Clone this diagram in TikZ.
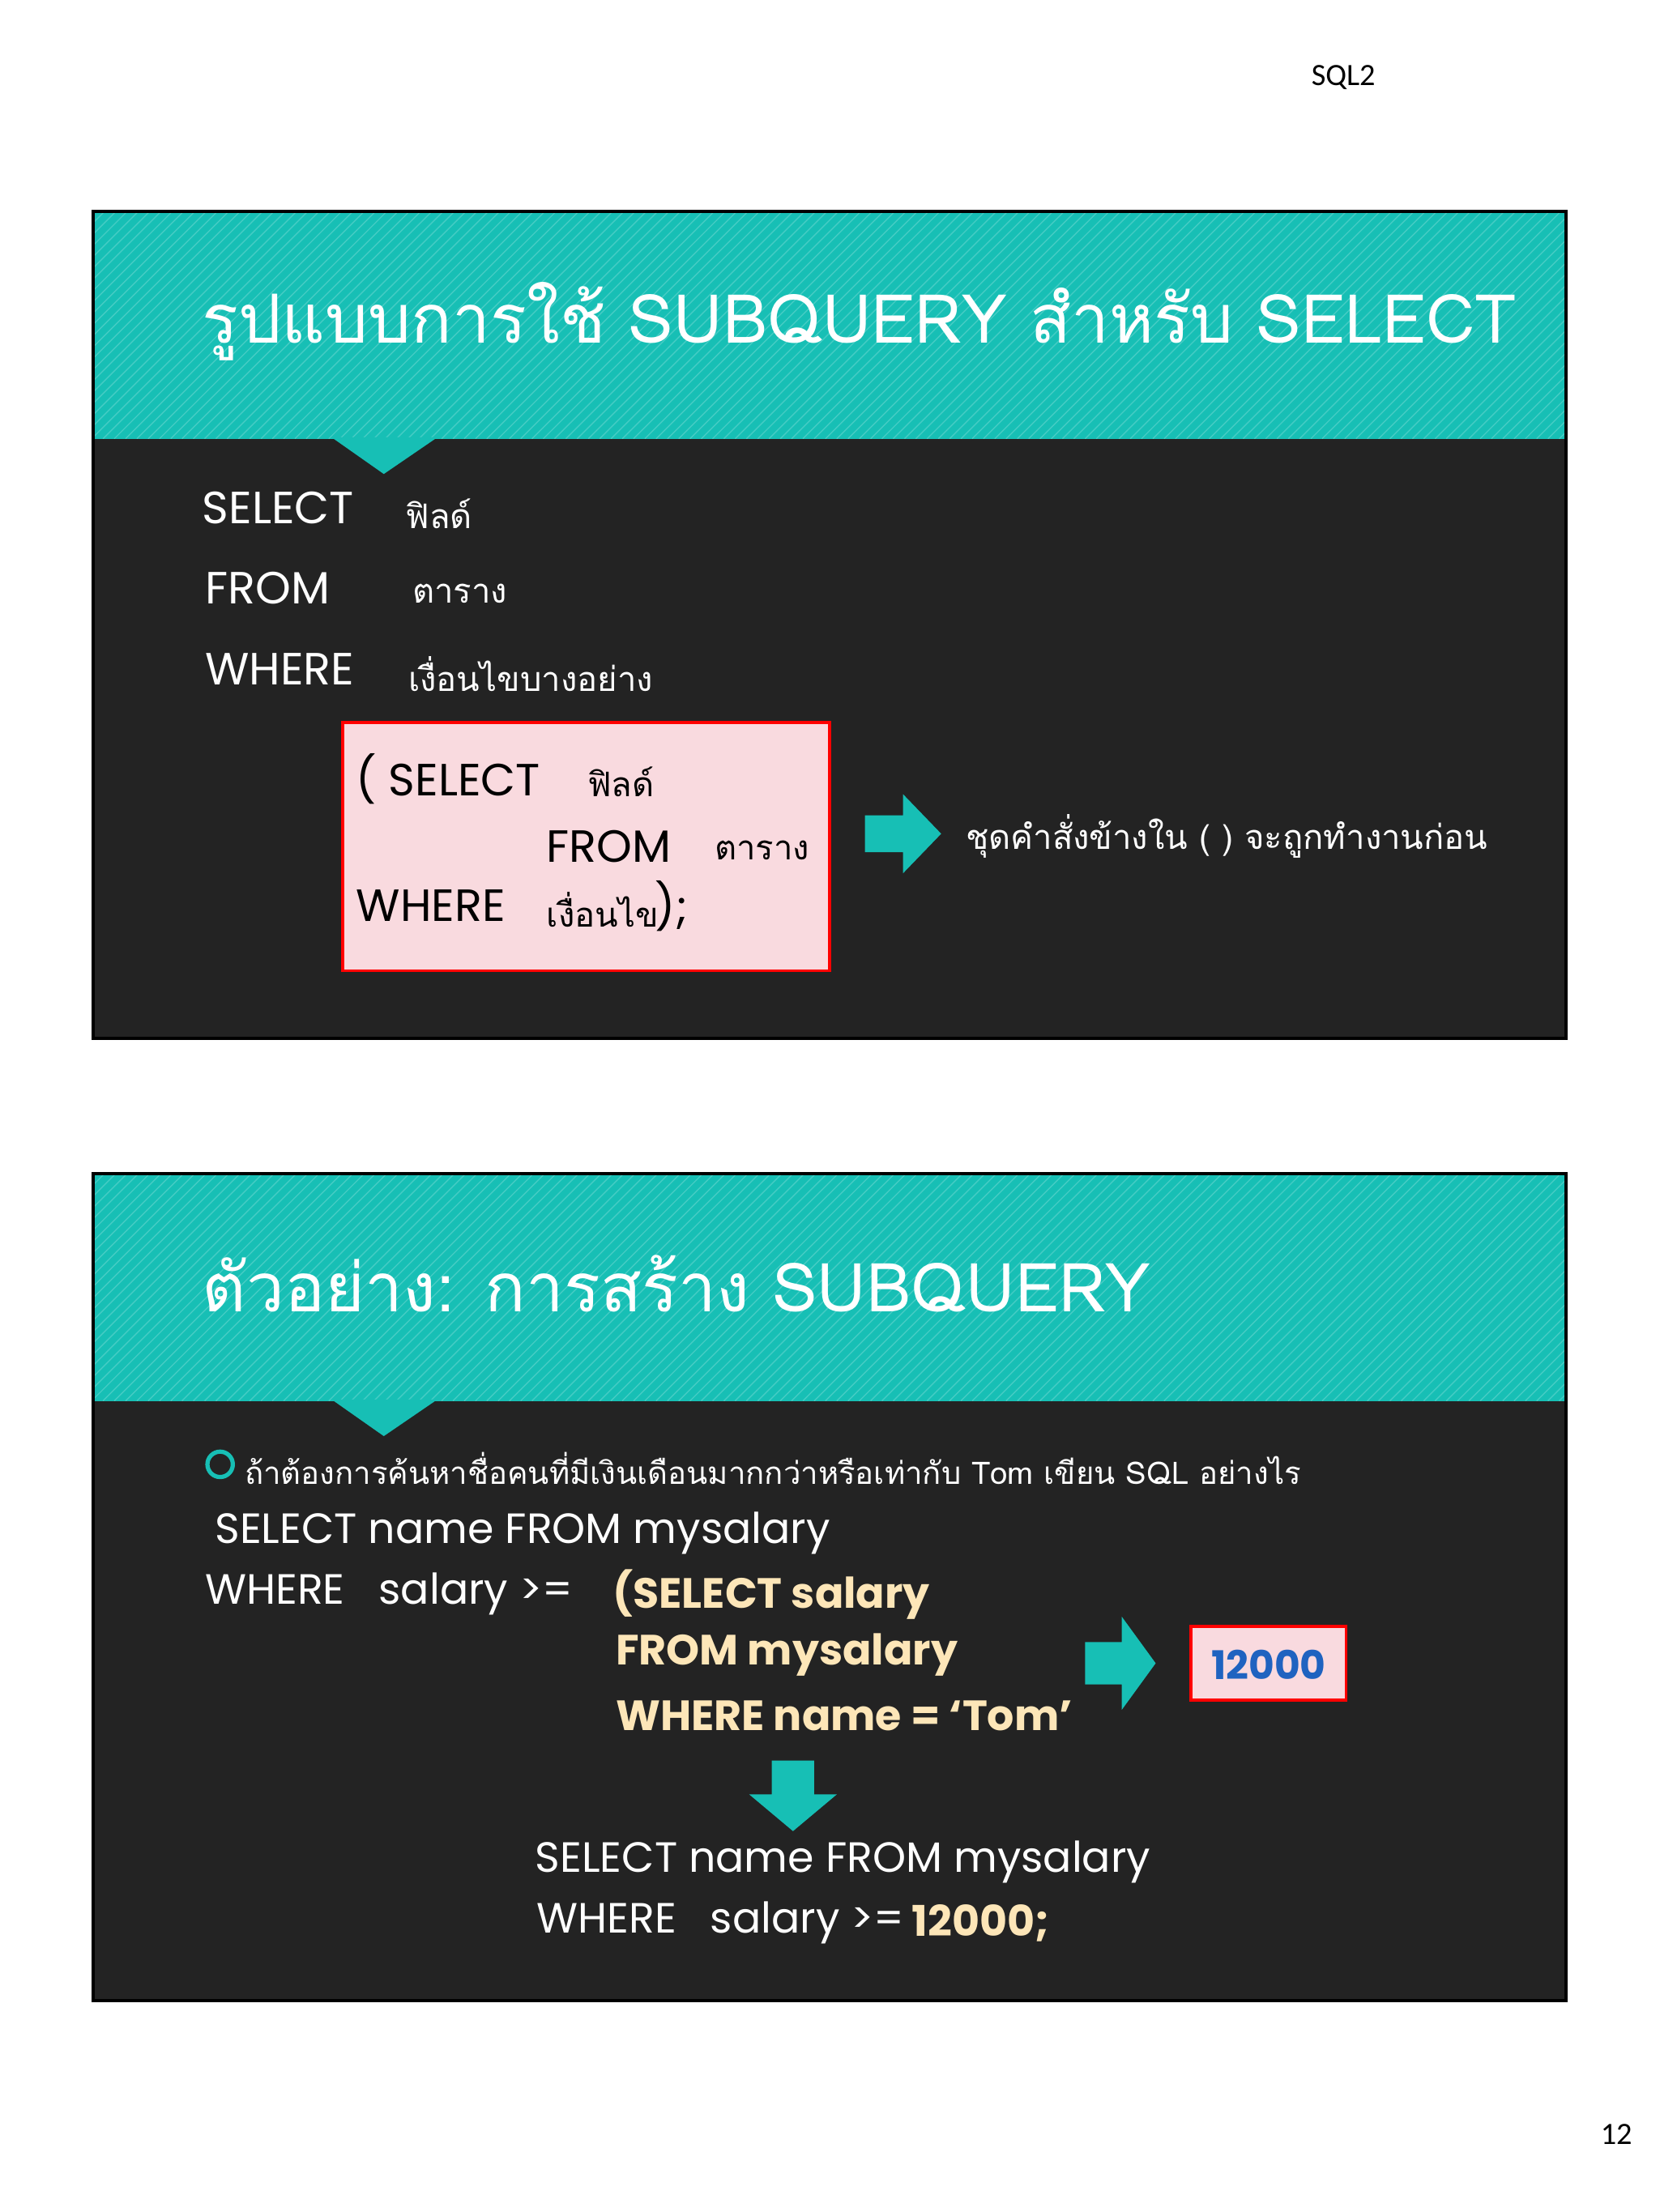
\documentclass[tikz,border=0pt]{standalone}
\usepackage{fontspec}
\setmainfont{Poppins}
\newfontfamily\thaif[Script=Thai]{Loma}
\newfontfamily\calf{Carlito}
\definecolor{teal1}{HTML}{17BFB5}
\definecolor{dark}{HTML}{232323}
\definecolor{pinkf}{HTML}{F9DADF}
\definecolor{yel}{HTML}{FDE6B8}
\definecolor{num}{HTML}{1F63C0}
\tikzset{
 hdr/.style={fill=teal1,draw=none},
 slide/.style={fill=dark,draw=black,line width=1.2pt},
 wt/.style={text=white,anchor=west,inner sep=0pt},
 bt/.style={text=black,anchor=west,inner sep=0pt},
 yt/.style={text=yel,anchor=west,inner sep=0pt,font=\fontsize{15}{18}\selectfont\bfseries},
 box/.style={fill=pinkf,draw=red,line width=1pt},
 barrow/.style={fill=teal1,draw=none}
}
\begin{document}
\begin{tikzpicture}[x=0.5pt,y=-0.5pt]
\useasboundingbox[fill=white] (0,0) rectangle (1176,1568);
\node[bt,font=\calf\fontsize{11}{13}\selectfont] (pg) at (929,55) {SQL2};
\node[bt,font=\calf\fontsize{11}{13}\selectfont] (num) at (1134,1513) {12};
% slide 1
\draw[slide] (66,150) rectangle (1110,736);
\fill[hdr] (66,150) rectangle (1110,311);
\begin{scope}
\clip (66,150) rectangle (1110,311);
\foreach \i in {0,8,...,1220} \draw[teal1!80!white,line width=0.4pt] (66+\i,150) -- (66+\i-161,311);
\end{scope}
\fill[teal1] (235,310) -- (272,336) -- (310,310) -- cycle;
\draw[black,line width=1.2pt] (66,150) rectangle (1110,736);
\node[wt,font=\thaif\fontsize{24}{28}\selectfont] (t1) at (143,228) {รูปแบบการใช้ SUBQUERY สำหรับ SELECT};
\node[wt,font=\fontsize{16}{19}\selectfont] (s1) at (143,360) {SELECT};
\node[wt,font=\thaif\fontsize{12}{14}\selectfont] (s1b) at (287,364) {ฟิลด์};
\node[wt,font=\fontsize{16}{19}\selectfont] (f1) at (145,417) {FROM};
\node[wt,font=\thaif\fontsize{12}{14}\selectfont] (f1b) at (292,421) {ตาราง};
\node[wt,font=\fontsize{16}{19}\selectfont] (w1) at (145,474) {WHERE};
\node[wt,font=\thaif\fontsize{12}{14}\selectfont] (w1b) at (289,478) {เงื่อนไขบางอย่าง};
\draw[box] (243,512) rectangle (588,688);
\node[bt,font=\fontsize{16}{19}\selectfont] (p1) at (252,552) {( SELECT};
\node[bt,font=\thaif\fontsize{12}{14}\selectfont] (p1b) at (416,554) {ฟิลด์};
\node[bt,font=\fontsize{16}{19}\selectfont] (p2) at (387,600) {FROM};
\node[bt,font=\thaif\fontsize{12}{14}\selectfont] (p2b) at (506,603) {ตาราง};
\node[bt,font=\fontsize{16}{19}\selectfont] (p3) at (252,642) {WHERE};
\node[bt,font=\thaif\fontsize{12}{14}\selectfont] (p3b) at (387,645) {เงื่อนไข};
\node[bt,font=\fontsize{16}{19}\selectfont] (p3c) at (464,642) {);};
\fill[barrow] (613,578) -- (640,578) -- (640,563) -- (667,591) -- (640,619) -- (640,604) -- (613,604) -- cycle;
\node[wt,font=\thaif\fontsize{12}{14}\selectfont] (c1) at (684,593) {ชุดคำสั่งข้างใน ( ) จะถูกทำงานก่อน};
% slide 2
\draw[slide] (66,832) rectangle (1110,1418);
\fill[hdr] (66,832) rectangle (1110,993);
\begin{scope}
\clip (66,832) rectangle (1110,993);
\foreach \i in {0,8,...,1220} \draw[teal1!80!white,line width=0.4pt] (66+\i,832) -- (66+\i-161,993);
\end{scope}
\fill[teal1] (235,992) -- (272,1018) -- (310,992) -- cycle;
\draw[black,line width=1.2pt] (66,832) rectangle (1110,1418);
\node[wt,font=\thaif\fontsize{24}{28}\selectfont] (t2) at (143,910) {ตัวอย่าง: การสร้าง SUBQUERY};
\draw[teal1,line width=1.5pt] (156,1038) circle (9);
\node[wt,font=\thaif\fontsize{11}{13}\selectfont] (bl) at (173,1041) {ถ้าต้องการค้นหาชื่อคนที่มีเงินเดือนมากกว่าหรือเท่ากับ Tom เขียน SQL อย่างไร};
\node[wt,font=\fontsize{15}{18}\selectfont] (q1) at (152,1087) {SELECT name FROM mysalary};
\node[wt,font=\fontsize{15}{18}\selectfont] (q2) at (145,1130) {WHERE\ \ \ salary >=};
\node[yt] (y1) at (434,1130) {(SELECT salary};
\node[yt] (y2) at (436,1173) {FROM mysalary};
\node[yt] (y3) at (436,1216) {WHERE name = ‘Tom’};
\fill[barrow] (769,1164) -- (795,1164) -- (795,1146) -- (819,1179) -- (795,1212) -- (795,1194) -- (769,1194) -- cycle;
\draw[box] (844,1153) rectangle (954,1205);
\node[font=\fontsize{14}{17}\selectfont\bfseries,text=num] (v) at (899,1180) {12000};
\fill[barrow] (547,1248) -- (577,1248) -- (577,1272) -- (593,1272) -- (562,1298) -- (531,1272) -- (547,1272) -- cycle;
\node[wt,font=\fontsize{15}{18}\selectfont] (r1) at (379,1320) {SELECT name FROM mysalary};
\node[wt,font=\fontsize{15}{18}\selectfont] (r2) at (380,1363) {WHERE\ \ \ salary >=};
\node[yt] (r3) at (646,1363) {12000;};
\end{tikzpicture}
\end{document}
